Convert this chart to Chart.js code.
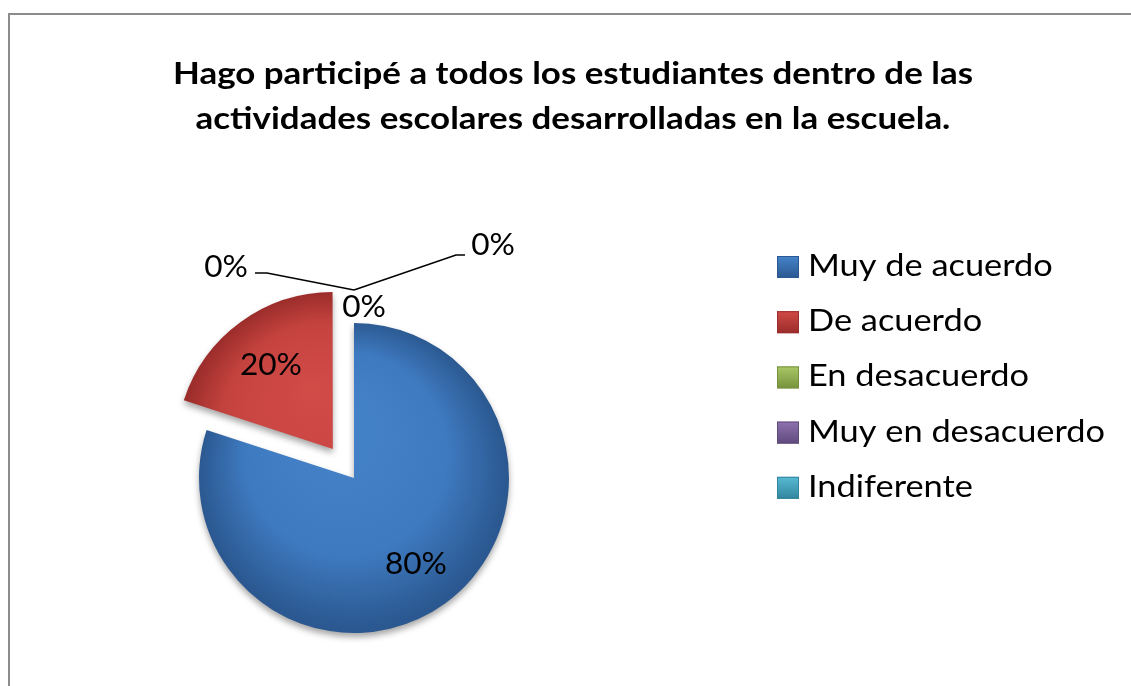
<!DOCTYPE html>
<html lang="es">
<head>
<meta charset="utf-8">
<title>Hago participé a todos los estudiantes</title>
<script src="https://cdn.jsdelivr.net/npm/chart.js@4.4.1/dist/chart.umd.min.js"></script>
<style>
  html, body { margin: 0; padding: 0; background: #fff; }
  #wrap { width: 1131px; height: 686px; }
</style>
</head>
<body>
<div id="wrap"><canvas id="myChart" width="1131" height="686"></canvas></div>
<script>
'use strict';

let titleLines = ['Hago participé a todos los estudiantes dentro de las', 'actividades escolares desarrolladas en la escuela.'];
let labels = ['Muy de acuerdo', 'De acuerdo', 'En desacuerdo', 'Muy en desacuerdo', 'Indiferente'];
let values = [80, 20, 0, 0, 0];

let colors = ['#3E7AC0', '#C5433F', '#9BBB59', '#8064A2', '#4BACC6'];
let lightColors = ['#4583C9', '#D14B47', '#A9C866', '#8E72B0', '#58BAD4'];
let darkColors = ['#2B5890', '#9A2C2A', '#76923C', '#5F4A7B', '#31859C'];
let FONT = 'Lato, "Open Sans", sans-serif';
let CAP = 0.72; // cap height of Lato relative to font size

let total = values.reduce((a, b) => a + b, 0);

// draw text with a given cap height, squeezed sideways to a reference width
function squeezeFor(ctx, sample, weight, capHeight, width) {
  let size = capHeight / CAP;
  ctx.font = `${weight} ${size}px ${FONT}`;
  return {font: ctx.font, sx: width / ctx.measureText(sample).width};
}

function drawText(ctx, text, x, y, fit) {
  ctx.save();
  ctx.font = fit.font;
  ctx.translate(x, y);
  ctx.scale(fit.sx, 1);
  ctx.fillText(text, 0, 0);
  ctx.restore();
}

function sliceFill(context) {
  let chart = context.chart;
  let area = chart.chartArea;
  let i = context.dataIndex;
  if (!area) {
    return colors[i];
  }
  let cx = (area.left + area.right) / 2;
  let cy = (area.top + area.bottom) / 2;
  let g = chart.ctx.createRadialGradient(cx - 20, cy - 60, 5, cx, cy, 165);
  g.addColorStop(0, lightColors[i]);
  g.addColorStop(0.6, colors[i]);
  g.addColorStop(0.93, darkColors[i]);
  g.addColorStop(1, darkColors[i]);
  return g;
}

// soft shadow under the slices to give a bit of depth
let shadowPlugin = {
  id: 'shadow',
  beforeDatasetsDraw(chart) {
    let ctx = chart.ctx;
    ctx.save();
    ctx.shadowColor = 'rgba(0, 0, 0, 0.35)';
    ctx.shadowBlur = 6;
    ctx.shadowOffsetX = 0;
    ctx.shadowOffsetY = 4;
  },
  afterDatasetsDraw(chart) {
    chart.ctx.restore();
  }
};

let decorPlugin = {
  id: 'decor',
  afterDraw(chart) {
    let ctx = chart.ctx;
    ctx.save();

    // frame
    ctx.strokeStyle = '#8C8C8C';
    ctx.lineWidth = 2;
    ctx.beginPath();
    ctx.moveTo(9, 686);
    ctx.lineTo(9, 14);
    ctx.lineTo(1131, 14);
    ctx.stroke();

    // title
    ctx.fillStyle = '#000';
    ctx.textAlign = 'center';
    ctx.textBaseline = 'alphabetic';
    let tFit = squeezeFor(ctx, titleLines[0], 'bold', 22.5, 800);
    drawText(ctx, titleLines[0], 573, 84, tFit);
    drawText(ctx, titleLines[1], 573, 129, tFit);

    // legend
    let lFit = squeezeFor(ctx, labels[3], 'normal', 22.5, 297);
    ctx.textAlign = 'left';
    for (let i = 0; i < labels.length; i++) {
      let y = 267 + i * 55.2;
      let g = ctx.createLinearGradient(0, y - 11, 0, y + 11);
      g.addColorStop(0, lightColors[i]);
      g.addColorStop(1, darkColors[i]);
      ctx.fillStyle = g;
      ctx.fillRect(777, y - 11, 22, 22);
      ctx.strokeStyle = darkColors[i];
      ctx.lineWidth = 1;
      ctx.strokeRect(777.5, y - 10.5, 21, 21);
      ctx.fillStyle = '#000';
      drawText(ctx, labels[i], 808, y + 9, lFit);
    }

    // data labels
    let pFit = squeezeFor(ctx, '80%', 'normal', 22.5, 62);
    ctx.textAlign = 'center';
    ctx.textBaseline = 'alphabetic';
    ctx.strokeStyle = '#000';
    ctx.lineWidth = 1.5;
    let meta = chart.getDatasetMeta(0);
    // where the zero labels sit around their common anchor
    let zeroPlace = {
      2: {dx: -128, dy: -24, leader: [[-87, -17], [-99, -17]]},
      3: {dx: 10, dy: 16, leader: null},
      4: {dx: 139, dy: -46, leader: [[102, -35], [111, -35]]}
    };
    meta.data.forEach((arc, i) => {
      let p = arc.getProps(['x', 'y', 'startAngle', 'endAngle', 'outerRadius'], true);
      let mid = (p.startAngle + p.endAngle) / 2;
      let shift = (arc.options.offset || 0) / 4;
      let text = Math.round(values[i] / total * 100) + '%';
      if (values[i] > 0) {
        let r = shift + p.outerRadius * 0.68;
        drawText(ctx, text, p.x + Math.cos(mid) * r, p.y + Math.sin(mid) * r + 11, pFit);
      } else {
        let r = p.outerRadius + 33;
        let ax = p.x + Math.cos(mid) * r;
        let ay = p.y + Math.sin(mid) * r;
        let place = zeroPlace[i];
        if (place.leader) {
          ctx.beginPath();
          ctx.moveTo(ax, ay);
          place.leader.forEach(pt => ctx.lineTo(ax + pt[0], ay + pt[1]));
          ctx.stroke();
        }
        drawText(ctx, text, ax + place.dx, ay + place.dy + 11, pFit);
      }
    });

    ctx.restore();
  }
};

let ctx = document.getElementById('myChart').getContext('2d');
let myChart = new Chart(ctx, {
  type: 'pie',
  data: {
    labels: labels,
    datasets: [{
      data: values,
      backgroundColor: sliceFill,
      borderWidth: 0,
      offset: [0, 144, 0, 0, 0],
      radius: 155
    }]
  },
  options: {
    responsive: false,
    animation: false,
    layout: {
      padding: {left: 150, right: 573, top: 270, bottom: 0}
    },
    plugins: {
      legend: {display: false},
      title: {display: false},
      tooltip: {enabled: false}
    }
  },
  plugins: [shadowPlugin, decorPlugin]
});
</script>
</body>
</html>
